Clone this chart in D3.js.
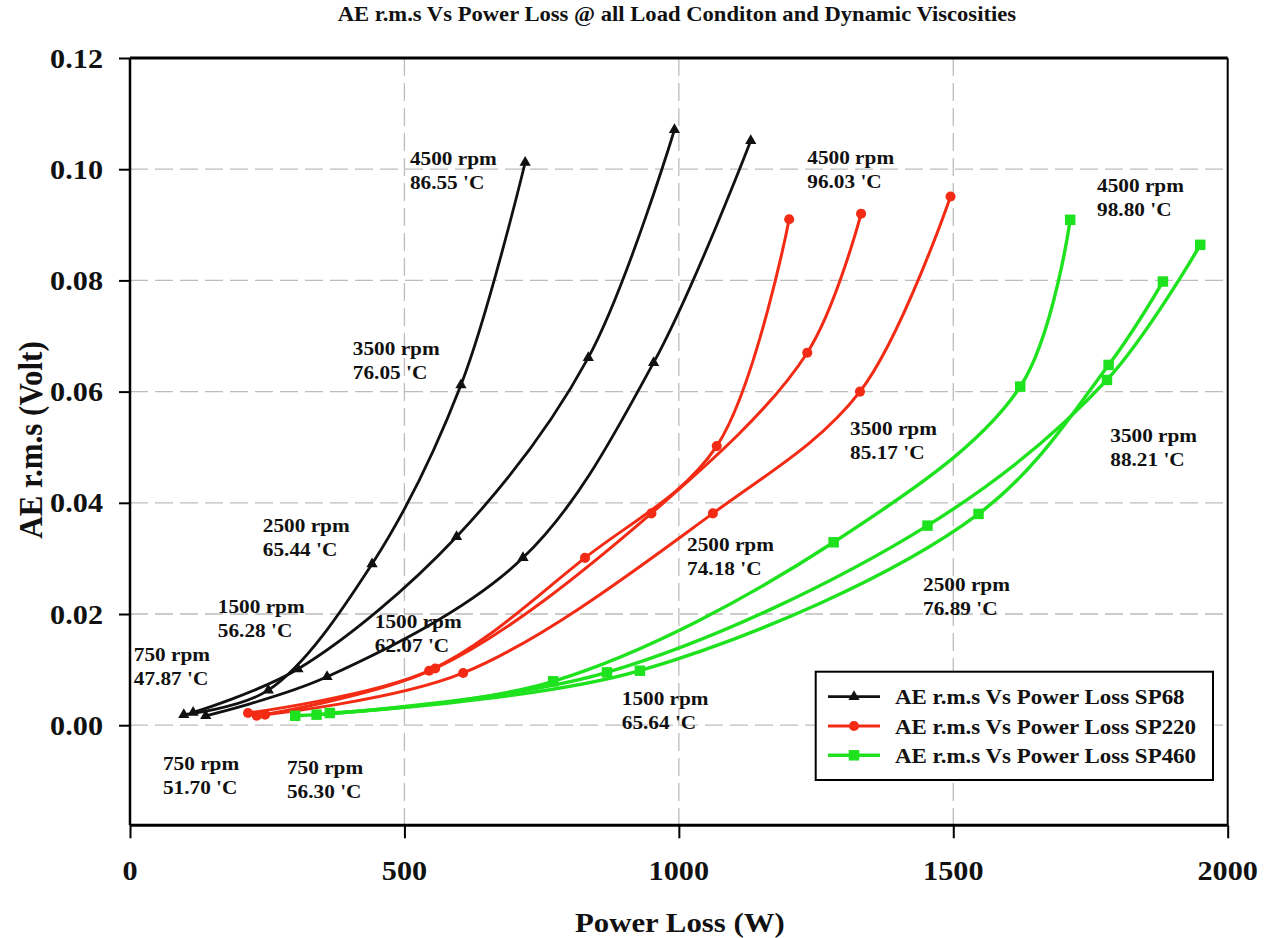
<!DOCTYPE html>
<html lang="en">
<head>
<meta charset="utf-8">
<title>AE r.m.s Vs Power Loss</title>
<script src="https://d3js.org/d3.v7.min.js"></script>
<style>
  body { margin: 0; background: #fff; }
  text { font-family: "Liberation Serif", "Times New Roman", serif; font-weight: bold; fill: #111; }
</style>
</head>
<body>
<script>
// ---- data (power loss in W, AE r.m.s in Volt), one row per load condition,
// points in order 750, 1500, 2500, 3500, 4500 rpm
var rpm = [750, 1500, 2500, 3500, 4500];

var sp68W = [[98, 252, 441, 603, 720],
             [115, 306, 595, 835, 992],
             [138, 359, 716, 954, 1131]];
var sp68V = [[0.0019, 0.0063, 0.0290, 0.0612, 0.1012],
             [0.0023, 0.0101, 0.0339, 0.0661, 0.1071],
             [0.0017, 0.0087, 0.0301, 0.0652, 0.1051]];

var sp220W = [[215, 545, 829, 1069, 1201],
              [231, 556, 950, 1234, 1332],
              [246, 607, 1062, 1330, 1495]];
var sp220V = [[0.0022, 0.0098, 0.0301, 0.0502, 0.0910],
              [0.0017, 0.0102, 0.0381, 0.0670, 0.0920],
              [0.0019, 0.0094, 0.0381, 0.0600, 0.0951]];

var sp460W = [[301, 771, 1282, 1622, 1713],
              [340, 869, 1453, 1780, 1950],
              [364, 929, 1546, 1783, 1882]];
var sp460V = [[0.0017, 0.0079, 0.0329, 0.0609, 0.0909],
              [0.0019, 0.0095, 0.0359, 0.0621, 0.0864],
              [0.0022, 0.0098, 0.0380, 0.0648, 0.0798]];

var seriesNames = ["AE r.m.s Vs Power Loss SP68", "AE r.m.s Vs Power Loss SP220", "AE r.m.s Vs Power Loss SP460"];
var seriesColors = ["#111111", "#f32b14", "#1fe21f"];

var xTicks = [0, 500, 1000, 1500, 2000];
var yTicks = [0, 0.02, 0.04, 0.06, 0.08, 0.10, 0.12];

// annotations: [power, ae, line1, line2]
var notes = [
  [510, 0.1008, "4500 rpm", "86.55 'C"],
  [406, 0.0666, "3500 rpm", "76.05 'C"],
  [242, 0.0348, "2500 rpm", "65.44 'C"],
  [160, 0.0202, "1500 rpm", "56.28 'C"],
  [7, 0.0116, "750 rpm", "47.87 'C"],
  [446, 0.0175, "1500 rpm", "62.07 'C"],
  [60, -0.0080, "750 rpm", "51.70 'C"],
  [286, -0.0088, "750 rpm", "56.30 'C"],
  [1234, 0.1010, "4500 rpm", "96.03 'C"],
  [1312, 0.0522, "3500 rpm", "85.17 'C"],
  [1015, 0.0314, "2500 rpm", "74.18 'C"],
  [1762, 0.0959, "4500 rpm", "98.80 'C"],
  [1786, 0.0509, "3500 rpm", "88.21 'C"],
  [1445, 0.0242, "2500 rpm", "76.89 'C"],
  [896, 0.0036, "1500 rpm", "65.64 'C"]
];

// ---- layout
var W = 1268, H = 938;
var mL = 130, mR = 1227.7, mT = 58, mB = 825.3;
var SX = 1.12; // the source text is a little wider than Times

var svg = d3.select("body").append("svg")
  .attr("width", W).attr("height", H);

var x = d3.scaleLinear().domain([0, 2000]).range([mL, mR]);
var y = d3.scaleLinear().domain([-0.018, 0.12]).range([mB, mT]);

function label(px, py, str, size, anchor) {
  return svg.append("text")
    .attr("transform", "translate(" + px + "," + py + ") scale(" + SX + ",1)")
    .attr("text-anchor", anchor || "start")
    .style("font-size", size + "px")
    .text(str);
}

// grid
svg.append("g").selectAll("line").data(yTicks.slice(0, 6)).join("line")
  .attr("x1", mL).attr("x2", mR)
  .attr("y1", d => y(d)).attr("y2", d => y(d))
  .attr("stroke", "#bdbdbd").attr("stroke-width", 1.3).attr("stroke-dasharray", "18,7");
svg.append("g").selectAll("line").data(xTicks.slice(1, 4)).join("line")
  .attr("x1", d => x(d)).attr("x2", d => x(d))
  .attr("y1", mT).attr("y2", mB)
  .attr("stroke", "#bdbdbd").attr("stroke-width", 1.3).attr("stroke-dasharray", "18,7");

// frame
svg.append("line").attr("x1", mL).attr("x2", mR).attr("y1", mT).attr("y2", mT)
  .attr("stroke", "#000").attr("stroke-width", 3);
svg.append("line").attr("x1", mR).attr("x2", mR).attr("y1", mT).attr("y2", mB)
  .attr("stroke", "#000").attr("stroke-width", 2);

// axes
var yAxis = svg.append("g").attr("transform", "translate(" + mL + ",0)")
  .call(d3.axisLeft(y).tickValues(yTicks).tickSize(11).tickFormat(""));
var xAxis = svg.append("g").attr("transform", "translate(0," + mB + ")")
  .call(d3.axisBottom(x).tickValues(xTicks).tickSize(13).tickFormat(""));
yAxis.select(".domain").attr("stroke-width", 2.5).attr("d", "M0," + mT + "V" + mB);
xAxis.select(".domain").attr("stroke-width", 3).attr("d", "M" + mL + ",0H" + mR);
svg.selectAll(".tick line").attr("stroke-width", 2);

yTicks.forEach(function (t) {
  label(103, y(t) + 9.5, d3.format(".2f")(t), 27, "end");
});
xTicks.forEach(function (t) {
  label(x(t), 880, String(t), 27, "middle");
});

// titles
label((mL + mR) / 2 - 2, 21, "AE r.m.s Vs Power Loss @ all Load Conditon and Dynamic Viscosities", 20.2, "middle");
label((mL + mR) / 2 + 1, 932, "Power Loss (W)", 27.5, "middle");
svg.append("text")
  .attr("transform", "translate(42,440) scale(" + SX + ",1) rotate(-90)")
  .attr("text-anchor", "middle")
  .style("font-size", "31px")
  .text("AE r.m.s (Volt)");

// curves
var line = d3.line().x(d => x(d[0])).y(d => y(d[1])).curve(d3.curveCatmullRom.alpha(0.5));
var triangle = d3.symbol(d3.symbolTriangle, 55)();
var circle = d3.symbol(d3.symbolCircle, 80)();
var square = d3.symbol(d3.symbolSquare, 110)();
var markers = [triangle, circle, square];
var widths = [2.8, 3, 3.4];

[[sp68W, sp68V], [sp220W, sp220V], [sp460W, sp460V]].forEach(function (s, i) {
  var g = svg.append("g");
  s[0].forEach(function (ws, j) {
    var pts = ws.map((w, k) => [w, s[1][j][k]]);
    g.append("path").attr("d", line(pts))
      .attr("fill", "none").attr("stroke", seriesColors[i])
      .attr("stroke-width", widths[i]).attr("stroke-linejoin", "round");
    g.selectAll(null).data(pts).join("path")
      .attr("d", markers[i])
      .attr("transform", d => "translate(" + x(d[0]) + "," + y(d[1]) + ")")
      .attr("fill", seriesColors[i]);
  });
});

// annotations
notes.forEach(function (n) {
  label(x(n[0]), y(n[1]), n[2], 19);
  label(x(n[0]), y(n[1]) + 24, n[3], 19);
});

// legend
var lg = svg.append("g");
lg.append("rect").attr("x", 815.7).attr("y", 671.7).attr("width", 397.3).attr("height", 108.3)
  .attr("fill", "#fff").attr("stroke", "#000").attr("stroke-width", 2);
seriesNames.forEach(function (nm, i) {
  var ly = 696.7 + i * 29.3;
  lg.append("line").attr("x1", 828).attr("x2", 880).attr("y1", ly).attr("y2", ly)
    .attr("stroke", seriesColors[i]).attr("stroke-width", widths[i]);
  lg.append("path").attr("d", markers[i]).attr("transform", "translate(854," + ly + ")")
    .attr("fill", seriesColors[i]);
  label(895, ly + 7.6, nm, 20.5);
});
</script>
</body>
</html>
